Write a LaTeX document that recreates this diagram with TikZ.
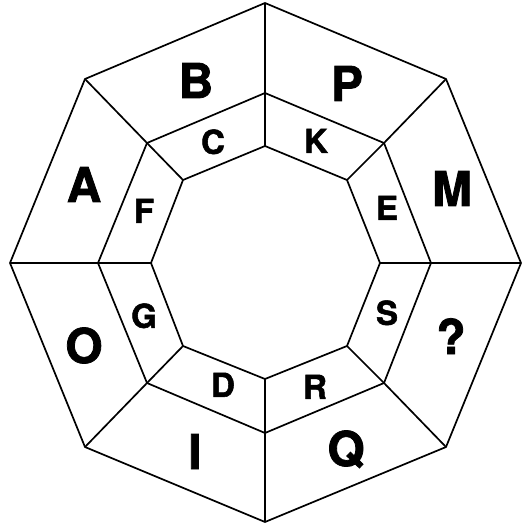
\documentclass[tikz,border=0pt]{standalone}
\usepackage{fontspec}
\setmainfont{TeX Gyre Heros}
\newfontfamily\heavyfont{TeX Gyre Heros}[BoldFeatures={FakeBold=1.6}]
\begin{document}
\begin{tikzpicture}[x=1pt,y=-1pt,
  edge/.style={line width=1.7pt,line join=miter},
  big/.style={inner sep=0pt,font=\fontsize{48}{48}\heavyfont\bfseries,text height=34pt,text depth=0pt},
  small/.style={inner sep=0pt,font=\fontsize{33}{33}\heavyfont\bfseries,text height=23.7pt,text depth=0pt}]
\useasboundingbox (0,0) rectangle (532,526);
% outer octagon
\coordinate (o1) at (265,3);
\coordinate (o2) at (446,79);
\coordinate (o3) at (521,263);
\coordinate (o4) at (446,447);
\coordinate (o5) at (265,522);
\coordinate (o6) at (85,447);
\coordinate (o7) at (10,263);
\coordinate (o8) at (85,79);
% middle octagon
\coordinate (m1) at (265,93);
\coordinate (m2) at (384,143);
\coordinate (m3) at (431,263);
\coordinate (m4) at (384,383);
\coordinate (m5) at (265,433);
\coordinate (m6) at (147,383);
\coordinate (m7) at (98,263);
\coordinate (m8) at (147,143);
% inner octagon
\coordinate (i1) at (265,146);
\coordinate (i2) at (347,180);
\coordinate (i3) at (380,263);
\coordinate (i4) at (347,346);
\coordinate (i5) at (265,379);
\coordinate (i6) at (183,346);
\coordinate (i7) at (151,263);
\coordinate (i8) at (183,180);
\draw[edge] (o1)--(o2)--(o3)--(o4)--(o5)--(o6)--(o7)--(o8)--cycle;
\draw[edge] (m1)--(m2)--(m3)--(m4)--(m5)--(m6)--(m7)--(m8)--cycle;
\draw[edge] (i1)--(i2)--(i3)--(i4)--(i5)--(i6)--(i7)--(i8)--cycle;
\foreach \k in {1,...,8}{\draw[edge] (o\k)--(m\k)--(i\k);}
% outer labels
\node[big] (lB) at (196,81) {B};
\node[big] (lP) at (347,84) {P};
\node[big] (lM) at (452,189) {M};
\node[big] (lQm) at (451,337) {?};
\node[big] (lQ) at (346,449) {Q};
\node[big] (lI) at (195,452) {I};
\node[big] (lO) at (84,346) {O};
\node[big] (lA) at (84,185) {A};
% inner labels
\node[small] (lC) at (213,142) {C};
\node[small] (lK) at (316,141) {K};
\node[small] (lE) at (387,208) {E};
\node[small] (lS) at (387,313) {S};
\node[small] (lR) at (315,387) {R};
\node[small] (lD) at (223,385) {D};
\node[small] (lG) at (144,316) {G};
\node[small] (lF) at (144,211) {F};
\end{tikzpicture}
\end{document}
